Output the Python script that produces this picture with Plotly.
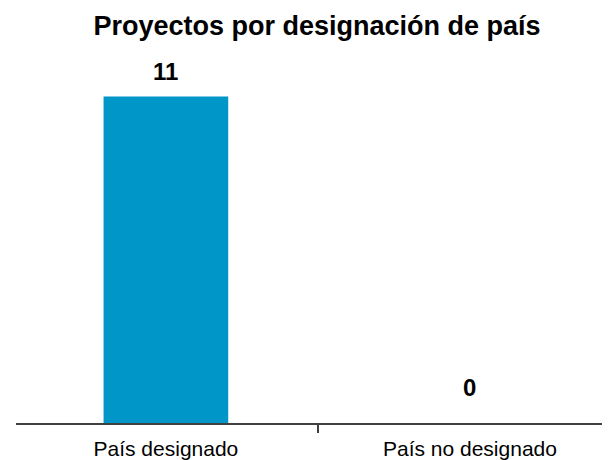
import plotly.graph_objects as go

categories = ["País designado", "País no designado"]
values = [11, 0]
label_shift = [10, 20]
title_text = "Proyectos por designación de país"

fig = go.Figure(go.Bar(
    x=categories, y=values,
    marker=dict(color="#0096C8", line=dict(width=0)),
    width=0.41,
))

for c, v, s in zip(categories, values, label_shift):
    fig.add_annotation(x=c, y=v, text="<b>%d</b>" % v, showarrow=False,
                       yanchor="bottom", yshift=s,
                       font=dict(family="Liberation Sans", size=24, color="black"))

fig.update_layout(
    width=610, height=460,
    margin=dict(l=8, r=0, t=50, b=45),
    paper_bgcolor="white", plot_bgcolor="white",
    showlegend=False,
    title=dict(text="<b>" + title_text + "</b>", x=309 / 610, xanchor="center",
               y=1 - 18 / 460, yanchor="middle", yref="container",
               font=dict(family="Liberation Sans", size=27, color="black")),
    xaxis=dict(type="category", range=[-0.493, 1.487], tickson="boundaries",
               ticks="outside", ticklen=8, tickwidth=2, tickcolor="#404040",
               showline=True, linecolor="#404040", linewidth=2,
               showgrid=False, zeroline=False, ticklabelstandoff=6,
               tickfont=dict(family="Liberation Sans", size=21, color="black")),
    yaxis=dict(range=[0, 12.3], visible=False, showgrid=False, zeroline=False),
)

fig.write_html("out.html")
